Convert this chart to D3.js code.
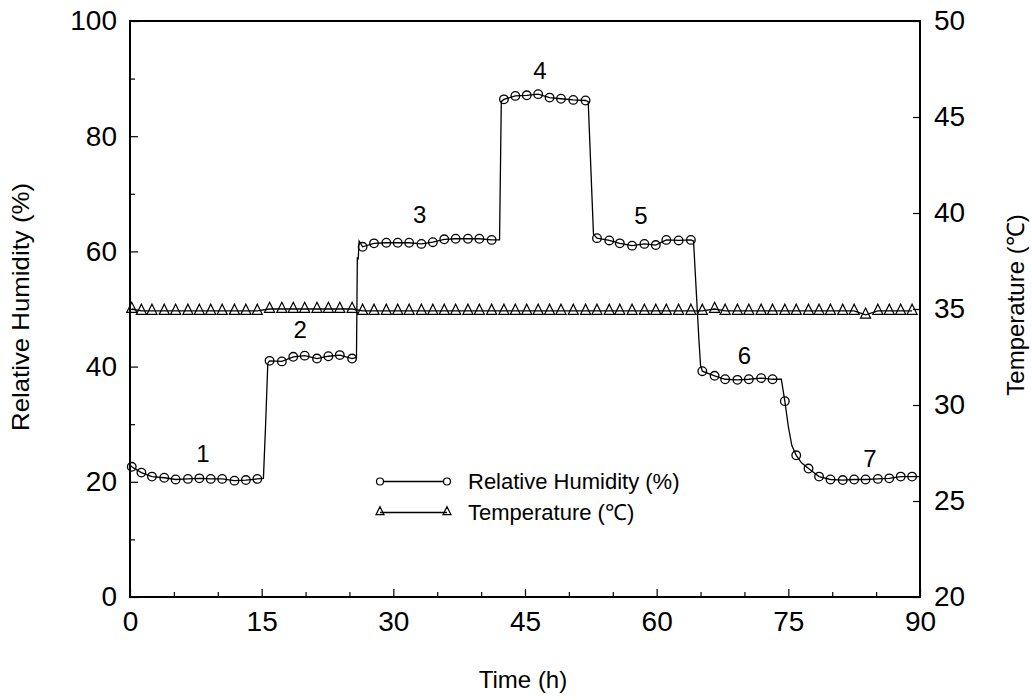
<!DOCTYPE html>
<html><head><meta charset="utf-8">
<script src="https://cdn.jsdelivr.net/npm/d3@7"></script>
<style>
body{margin:0;background:#fff}
svg text{font-family:"Liberation Sans",Arial,Helvetica,sans-serif;fill:#000}
</style>
</head><body>
<svg id="chart" width="1032" height="700"></svg>
<script>
// ---- data ----
const times = [
  0.2,1.3,2.5,3.9,5.2,6.6,7.9,9.2,10.5,11.9,13.2,14.5,
  15.9,17.3,18.6,19.9,21.3,22.6,23.9,25.3,
  26.5,27.8,29.2,30.5,31.8,33.2,34.5,35.8,37.1,38.5,39.8,41.2,
  42.6,43.9,45.2,46.5,47.8,49.1,50.5,51.9,
  53.2,54.6,55.8,57.2,58.6,59.9,61.1,62.5,63.9,
  65.2,66.6,67.8,69.2,70.5,71.9,73.2,
  74.6,75.9,77.3,78.5,
  79.8,81.2,82.5,83.8,85.2,86.5,87.8,89.1
];
const humidity = [
  22.6,21.6,20.9,20.7,20.4,20.5,20.6,20.5,20.5,20.2,20.3,20.5,
  41.0,40.9,41.7,41.9,41.4,41.8,42.0,41.4,
  60.8,61.4,61.5,61.5,61.5,61.3,61.6,62.1,62.2,62.2,62.2,62.0,
  86.4,87.0,87.1,87.3,86.7,86.5,86.3,86.2,
  62.3,61.9,61.4,61.0,61.3,61.1,62.0,61.9,62.0,
  39.2,38.4,37.8,37.7,37.8,38.0,37.8,
  34.0,24.6,22.3,20.9,
  20.4,20.3,20.4,20.4,20.5,20.6,20.9,20.9
];
const temperature = [
  35.0,34.9,34.9,34.9,34.9,34.9,34.9,34.9,34.9,34.9,34.9,34.9,
  35.0,35.0,35.0,35.0,35.0,35.0,35.0,35.0,
  34.9,34.9,34.9,34.9,34.9,34.9,34.9,34.9,34.9,34.9,34.9,34.9,
  34.9,34.9,34.9,34.9,34.9,34.9,34.9,34.9,
  34.9,34.9,34.9,34.9,34.9,34.9,34.9,34.9,34.9,
  34.9,35.0,34.9,34.9,34.9,34.9,34.9,
  34.9,34.9,34.9,34.9,
  34.9,34.9,34.9,34.7,34.9,34.9,34.9,34.9
];
// continuous humidity trace (time, %RH)
const humidityTrace = [
  [0,22.9],[0.2,22.6],[1.3,21.6],[2.5,20.9],[3.9,20.7],[5.2,20.4],[6.6,20.5],[7.9,20.6],[9.2,20.5],[10.5,20.5],[11.9,20.2],[13.2,20.3],[14.5,20.5],
  [15.2,20.6],[15.45,30.0],[15.7,40.6],
  [15.9,41.0],[17.3,40.9],[18.6,41.7],[19.9,41.9],[21.3,41.4],[22.6,41.8],[23.9,42.0],[25.3,41.4],
  [25.8,41.6],[25.9,59.0],[26.0,58.6],[26.1,61.8],
  [26.5,60.8],[27.8,61.4],[29.2,61.5],[30.5,61.5],[31.8,61.5],[33.2,61.3],[34.5,61.6],[35.8,62.1],[37.1,62.2],[38.5,62.2],[39.8,62.2],[41.2,62.0],
  [42.1,62.0],[42.3,86.0],
  [42.6,86.4],[43.9,87.0],[45.2,87.1],[46.5,87.3],[47.8,86.7],[49.1,86.5],[50.5,86.3],[51.9,86.2],
  [52.2,86.0],[52.8,63.0],
  [53.2,62.3],[54.6,61.9],[55.8,61.4],[57.2,61.0],[58.6,61.3],[59.9,61.1],[61.1,62.0],[62.5,61.9],[63.9,62.0],
  [64.2,61.8],[64.8,45.0],[65.0,40.2],
  [65.2,39.2],[66.6,38.4],[67.8,37.8],[69.2,37.7],[70.5,37.8],[71.9,38.0],[73.2,37.8],
  [74.2,37.8],[74.6,34.0],[75.0,29.6],[75.4,26.3],[75.9,24.6],[76.5,23.3],[77.3,22.3],[78.5,20.9],
  [79.8,20.4],[81.2,20.3],[82.5,20.4],[83.8,20.4],[85.2,20.5],[86.5,20.6],[87.8,20.9],[89.1,20.9],[90,20.9]
];
const stageNames = ["1","2","3","4","5","6","7"];
const stageTime  = [8.3,19.4,33.0,46.7,58.2,70.0,84.3];
const stageRH    = [25.0,46.5,66.5,91.5,66.3,41.9,24.0];

const xTicks = [0,15,30,45,60,75,90];
const xMinor = [5,10,20,25,35,40,50,55,65,70,80,85];
const yLeftTicks = [0,20,40,60,80,100];
const yLeftMinor = [10,30,50,70,90];
const yRightTicks = [20,25,30,35,40,45,50];

const legendNames = ["Relative Humidity (%)","Temperature (\u2103)"];

// ---- layout ----
const L = 130, R = 920, T = 21, B = 597;
const svg = d3.select("#chart");
const x = d3.scaleLinear().domain([0,90]).range([L,R]);
const yL = d3.scaleLinear().domain([0,100]).range([B,T]);
const yR = d3.scaleLinear().domain([20,50]).range([B,T]);

function styleAxis(g){
  g.select(".domain").remove();
  g.selectAll(".tick line").attr("stroke","#000").attr("stroke-width",1.2);
  g.selectAll(".tick text").attr("font-size",28).attr("font-family",null).attr("fill","#000");
}

// axes (ticks inward)
svg.append("g").attr("transform",`translate(0,${B})`)
  .call(d3.axisBottom(x).tickValues(xTicks).tickSize(-8).tickPadding(14).tickFormat(d3.format("d")))
  .call(styleAxis);
svg.append("g").attr("transform",`translate(0,${B})`)
  .call(d3.axisBottom(x).tickValues(xMinor).tickSize(-5).tickFormat(""))
  .call(styleAxis);
svg.append("g").attr("transform",`translate(${L},0)`)
  .call(d3.axisLeft(yL).tickValues(yLeftTicks).tickSize(-8).tickPadding(13).tickFormat(d3.format("d")))
  .call(styleAxis);
svg.append("g").attr("transform",`translate(${L},0)`)
  .call(d3.axisLeft(yL).tickValues(yLeftMinor).tickSize(-5).tickFormat(""))
  .call(styleAxis);
svg.append("g").attr("transform",`translate(${R},0)`)
  .call(d3.axisRight(yR).tickValues(yRightTicks).tickSize(-7).tickPadding(14).tickFormat(d3.format("d")))
  .call(styleAxis);

// frame
svg.append("rect").attr("x",L).attr("y",T).attr("width",R-L).attr("height",B-T)
  .attr("fill","none").attr("stroke","#000").attr("stroke-width",2);

// temperature series
const tempPts = times.map((t,i)=>[t,temperature[i]]);
svg.append("path").datum(tempPts)
  .attr("fill","none").attr("stroke","#000").attr("stroke-width",1.3)
  .attr("d",d3.line().x(d=>x(d[0])).y(d=>yR(d[1])));
const tri = (w,h)=>`M0,${-h*2/3}L${w/2},${h/3}L${-w/2},${h/3}Z`;
svg.append("g").selectAll("path").data(tempPts).join("path")
  .attr("transform",d=>`translate(${x(d[0])},${yR(d[1])})`)
  .attr("d",tri(10,10)).attr("fill","none").attr("stroke","#000").attr("stroke-width",1.25);

// humidity series
svg.append("path").datum(humidityTrace)
  .attr("fill","none").attr("stroke","#000").attr("stroke-width",1.3)
  .attr("d",d3.line().x(d=>x(d[0])).y(d=>yL(d[1])));
svg.append("g").selectAll("circle").data(times.map((t,i)=>[t,humidity[i]])).join("circle")
  .attr("cx",d=>x(d[0])).attr("cy",d=>yL(d[1])).attr("r",4.3)
  .attr("fill","none").attr("stroke","#000").attr("stroke-width",1.3);

// stage labels
svg.append("g").selectAll("text").data(stageNames).join("text")
  .attr("x",(d,i)=>x(stageTime[i])).attr("y",(d,i)=>yL(stageRH[i]))
  .attr("dy","0.36em").attr("text-anchor","middle").attr("font-size",24).text(d=>d);

// legend
const lg = svg.append("g");
const lx0 = 380, lx1 = 447, ly = [481.5, 512.5];
lg.append("line").attr("x1",lx0).attr("x2",lx1).attr("y1",ly[0]).attr("y2",ly[0]).attr("stroke","#000").attr("stroke-width",1.3);
[lx0,lx1].forEach(cx=>lg.append("circle").attr("cx",cx).attr("cy",ly[0]).attr("r",3.5).attr("fill","#fff").attr("stroke","#000").attr("stroke-width",1.2));
lg.append("line").attr("x1",lx0).attr("x2",lx1).attr("y1",ly[1]).attr("y2",ly[1]).attr("stroke","#000").attr("stroke-width",1.3);
[lx0,lx1].forEach(cx=>lg.append("path").attr("transform",`translate(${cx},${ly[1]-0.5})`).attr("d",tri(8,8)).attr("fill","none").attr("stroke","#000").attr("stroke-width",1.2));
lg.selectAll("text").data(legendNames).join("text")
  .attr("x",468).attr("y",(d,i)=>ly[i]).attr("dy","0.36em").attr("font-size",22).text(d=>d);

// axis titles
svg.append("text").attr("x",(L+R)/2 - 2).attr("y",688).attr("text-anchor","middle").attr("font-size",24).text("Time (h)");
svg.append("text").attr("transform","translate(29,307) rotate(-90)").attr("text-anchor","middle").attr("font-size",24)
  .attr("textLength",248).attr("lengthAdjust","spacingAndGlyphs").text("Relative Humidity (%)");
svg.append("text").attr("transform","translate(1024,305) rotate(-90)").attr("text-anchor","middle").attr("font-size",24).text("Temperature (\u2103)");
</script>
</body></html>
